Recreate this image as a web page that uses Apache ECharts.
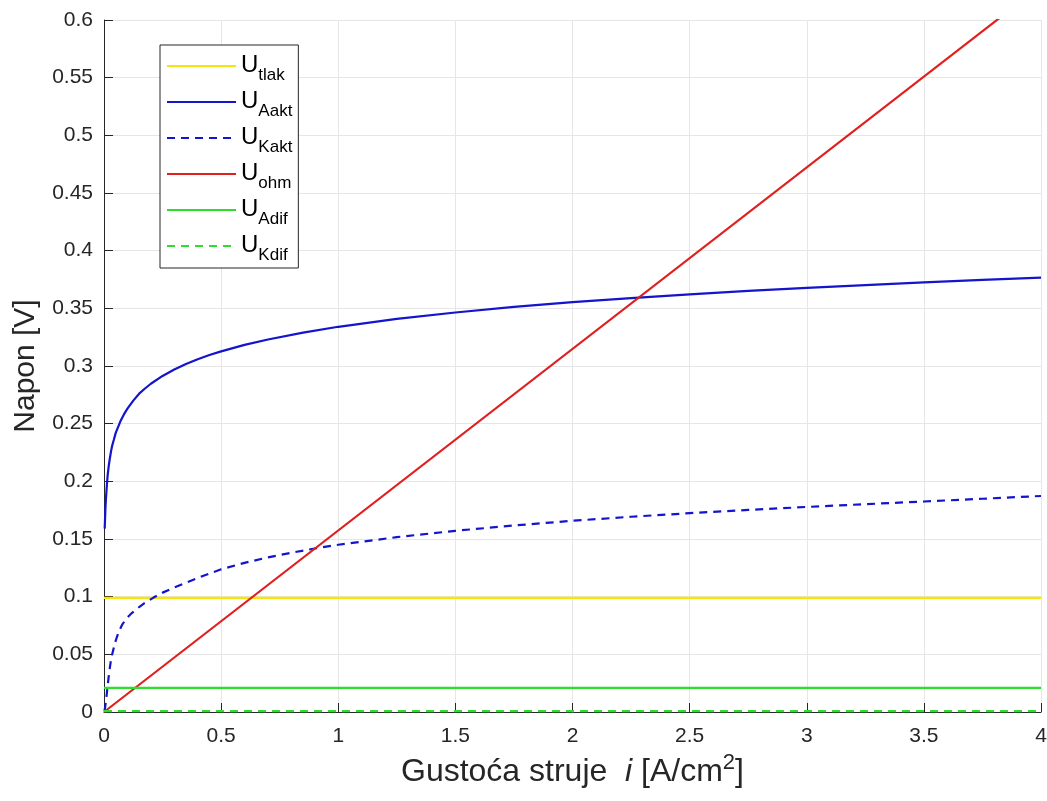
<!DOCTYPE html>
<html>
<head>
<meta charset="utf-8">
<script src="https://cdn.jsdelivr.net/npm/echarts@6/dist/echarts.min.js"></script>
<style>html,body{margin:0;padding:0;background:#fff}#c{width:1047px;height:801px}</style>
</head>
<body>
<div id="c"></div>
<script>
// ---- data ----
const xTickLabels = ['0','0.5','1','1.5','2','2.5','3','3.5','4'];
const seriesNames = ['U_tlak','U_Aakt','U_Kakt','U_ohm','U_Adif','U_Kdif'];

const tlakX = [0, 4];
const tlakY = [0.099, 0.099];

const aaktX = [0.003, 0.004, 0.006, 0.008, 0.01, 0.013, 0.016, 0.02, 0.025, 0.03, 0.035, 0.042, 0.05, 0.06, 0.07, 0.085, 0.1, 0.125, 0.15, 0.175, 0.2, 0.25, 0.3, 0.35, 0.4, 0.45, 0.5, 0.6, 0.7, 0.85, 1.0, 1.25, 1.5, 1.75, 2.0, 2.25, 2.5, 2.75, 3.0, 3.25, 3.5, 3.75, 4.0];
const aaktY = [0.159, 0.165, 0.176, 0.184, 0.190, 0.199, 0.206, 0.213, 0.220, 0.226, 0.231, 0.236, 0.242, 0.247, 0.252, 0.258, 0.263, 0.270, 0.276, 0.2805, 0.2846, 0.2914, 0.297, 0.3018, 0.3059, 0.3095, 0.3127, 0.3183, 0.323, 0.329, 0.334, 0.3409, 0.3464, 0.3512, 0.3553, 0.3589, 0.3621, 0.3651, 0.3677, 0.3702, 0.3725, 0.3746, 0.3766];

const kaktX = [0.002, 0.004, 0.006, 0.008, 0.011, 0.014, 0.018, 0.022, 0.026, 0.03, 0.035, 0.041, 0.047, 0.055, 0.065, 0.077, 0.09, 0.105, 0.12, 0.135, 0.15, 0.17, 0.19, 0.21, 0.25, 0.3, 0.35, 0.4, 0.5, 0.6, 0.7, 0.8, 0.9, 1.0, 1.25, 1.5, 1.75, 2.0, 2.25, 2.5, 2.75, 3.0, 3.25, 3.5, 3.75, 4.0];
const kaktY = [0.001, 0.003, 0.006, 0.009, 0.014, 0.020, 0.027, 0.034, 0.040, 0.045, 0.050, 0.055, 0.060, 0.065, 0.0705, 0.0755, 0.0795, 0.083, 0.086, 0.0885, 0.091, 0.094, 0.0965, 0.099, 0.1035, 0.108, 0.112, 0.1162, 0.1237, 0.1293, 0.1341, 0.1381, 0.1418, 0.145, 0.1516, 0.1571, 0.1617, 0.1658, 0.1693, 0.1724, 0.1752, 0.1778, 0.1802, 0.1825, 0.1849, 0.1873];

const ohmX = [0, 4];
const ohmY = [0, 0.6296];

const adifX = [0, 4];
const adifY = [0.021, 0.021];

const kdifX = [0, 4];
const kdifY = [0.0008, 0.0008];

// ---- build ----
const zip = (xs, ys) => xs.map((x, i) => [x, ys[i]]);
const colors = ['#f5e50a', '#1414cc', '#1414cc', '#e01f1f', '#2ede2e', '#2ede2e'];
const types = ['solid', 'solid', [8, 6], 'solid', 'solid', [8, 6]];
const datas = [zip(tlakX, tlakY), zip(aaktX, aaktY), zip(kaktX, kaktY), zip(ohmX, ohmY), zip(adifX, adifY), zip(kdifX, kdifY)];

const txt = '#262626';
const font = 'Liberation Sans, Arial, sans-serif';

const chart = echarts.init(document.getElementById('c'));
chart.setOption({
  animation: false,
  backgroundColor: '#fff',
  grid: { left: 104, right: 6, top: 20, bottom: 89, containLabel: false, outerBoundsMode: 'none' },
  legend: {
    orient: 'vertical',
    left: 160,
    top: 45,
    data: seriesNames,
    backgroundColor: '#fff',
    borderColor: '#262626',
    borderWidth: 1,
    borderRadius: 0,
    padding: [8, 6, 4, 6],
    itemGap: 5,
    itemWidth: 69,
    itemHeight: 12,
    itemStyle: { opacity: 0 },
    formatter: name => '{u|U}{s|' + name.split('_')[1] + '}',
    textStyle: {
      color: '#000',
      fontFamily: font,
      rich: {
        u: { fontSize: 24, fontFamily: font, color: '#000', verticalAlign: 'top', lineHeight: 26 },
        s: { fontSize: 17, fontFamily: font, color: '#000', verticalAlign: 'top', lineHeight: 18, padding: [14, 0, 0, 0] }
      }
    }
  },
  xAxis: {
    type: 'value',
    min: 0, max: 4, interval: 0.5,
    name: '{n|Gustoća struje  }{i|i}{n| [A/cm}{p|2}{n|]}',
    nameLocation: 'middle',
    nameGap: 40,
    nameTextStyle: {
      rich: {
        n: { fontSize: 32, fontFamily: font, color: txt, verticalAlign: 'bottom', lineHeight: 36 },
        i: { fontSize: 32, fontFamily: font, color: txt, fontStyle: 'italic', verticalAlign: 'bottom', lineHeight: 36 },
        p: { fontSize: 22, fontFamily: font, color: txt, verticalAlign: 'top', lineHeight: 22 }
      }
    },
    axisLine: { show: true, onZero: false, lineStyle: { color: txt, width: 1 } },
    axisTick: { show: true, inside: true, length: 9, lineStyle: { color: txt } },
    axisLabel: { color: txt, fontSize: 21, fontFamily: font, margin: 14,
      formatter: (v) => xTickLabels[Math.round(v / 0.5)] },
    splitLine: { show: true, lineStyle: { color: '#e6e6e6', width: 1 } }
  },
  yAxis: {
    type: 'value',
    min: 0, max: 0.6, interval: 0.05,
    name: 'Napon [V]',
    nameLocation: 'middle',
    nameRotate: 90,
    nameGap: 63,
    nameTextStyle: { fontSize: 30, fontFamily: font, color: txt },
    axisLine: { show: true, onZero: false, lineStyle: { color: txt, width: 1 } },
    axisTick: { show: true, inside: true, length: 9, lineStyle: { color: txt } },
    axisLabel: { color: txt, fontSize: 21, fontFamily: font, margin: 11,
      formatter: (v) => String(Math.round(v * 100) / 100) },
    splitLine: { show: true, lineStyle: { color: '#e6e6e6', width: 1 } }
  },
  series: seriesNames.map((n, k) => ({
    name: n,
    type: 'line',
    data: datas[k],
    symbol: 'none',
    smooth: false,
    clip: true,
    color: colors[k],
    lineStyle: { color: colors[k], width: 2.2, type: types[k] },
    z: 2 + k
  }))
});
</script>
</body>
</html>
